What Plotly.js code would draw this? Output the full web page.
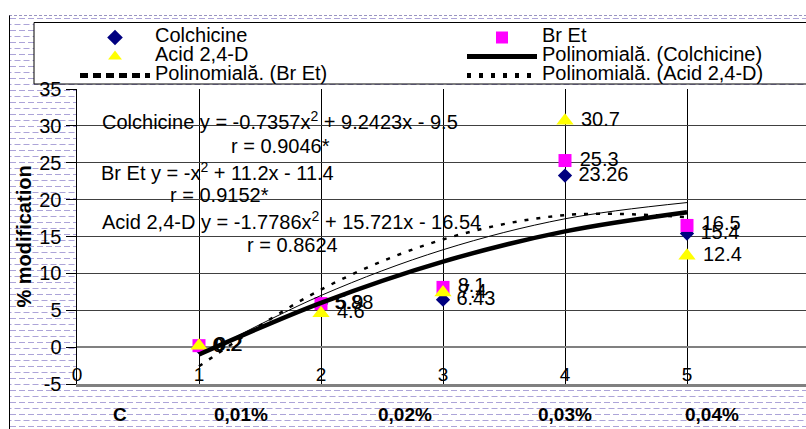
<!DOCTYPE html>
<html>
<head>
<meta charset="utf-8">
<script src="https://cdn.plot.ly/plotly-3.0.1.min.js"></script>
<style>
  html, body { margin:0; padding:0; background:#fff; }
  #wrap { position:relative; width:806px; height:429px; overflow:hidden; }
  #bg { position:absolute; left:9px; top:15px; width:797px; height:414px;
        border-left:1px solid #000; border-top:1px dashed #9a94c0;
        background-color:#fff;
        background-image:url("data:image/svg+xml,%3Csvg xmlns='http://www.w3.org/2000/svg' width='9' height='12'%3E%3Crect x='0' y='2' width='6' height='1' fill='%23aca4d8'/%3E%3Crect x='4.5' y='8' width='6' height='1' fill='%23aca4d8'/%3E%3Crect x='-4.5' y='8' width='6' height='1' fill='%23aca4d8'/%3E%3C/svg%3E"); }
  #chart { position:absolute; left:0; top:0; width:806px; height:429px; }
</style>
</head>
<body>
<div id="wrap"><div id="bg"></div><div id="chart"></div></div>
<script>
// ---- data ----
const doses = [1, 2, 3, 4, 5];
const colchicine = [0, 5.88, 6.43, 23.26, 15.4];
const brEt = [0.2, 5.9, 8.1, 25.3, 16.5];
const acid = [0.2, 4.6, 7.4, 30.7, 12.4];
// polynomial trend lines, values at each dose
const trendColchicine = [-1.0, 6.0, 11.6, 15.7, 18.3];
const trendBrEt = [-1.2, 7.0, 13.2, 17.4, 19.6];
const trendAcid = [-2.6, 7.8, 14.6, 17.9, 17.6];
const seriesNames = ["Colchicine", "Br Et", "Acid 2,4-D"];
const trendNames = ["Polinomială. (Colchicine)", "Polinomială. (Br Et)", "Polinomială. (Acid 2,4-D)"];
const xTickVals = [0, 1, 2, 3, 4, 5, 6];
const yTickVals = [-5, 0, 5, 10, 15, 20, 25, 30, 35];
const bottomLabels = ["C", "0,01%", "0,02%", "0,03%", "0,04%"];
const equations = [
  "Colchicine y = -0.7357x<sup>2</sup> + 9.2423x - 9.5",
  "r = 0.9046*",
  "Br Et y = -x<sup>2</sup> + 11.2x - 11.4",
  "r = 0.9152*",
  "Acid 2,4-D y = -1.7786x<sup>2</sup> + 15.721x - 16.54",
  "r = 0.8624"
];
const yTitle = "% modification";

// ---- presentation ----
const FONT = "Arial, 'Liberation Sans', sans-serif";
const leg = s => '<span style="font-size:20px">' + s + '</span>';
const labelFont = {family: FONT, size: 20, color: '#000'};

function markerTrace(name, y, symbol, color, size, legendId) {
  return {
    type: 'scatter', mode: 'markers+text', name: leg(name), legend: legendId,
    x: doses, y: y, text: y.map(v => '\u00a0' + v), textposition: 'middle right',
    textfont: labelFont, cliponaxis: false,
    marker: {symbol: symbol, color: color, size: size, line: {width: 0}},
    hoverinfo: 'x+y'
  };
}
function trendTrace(name, y, width, dash, legendId, show) {
  return {
    type: 'scatter', mode: 'lines', name: leg(name), legend: legendId, showlegend: show,
    x: doses, y: y, line: {color: '#000', width: width, dash: dash, shape: 'spline', smoothing: 1},
    hoverinfo: 'skip'
  };
}

const traces = [
  markerTrace(seriesNames[0], colchicine, 'diamond', '#000080', 11, 'legend'),
  markerTrace(seriesNames[1], brEt, 'square', '#FF00FF', 13, 'legend2'),
  markerTrace(seriesNames[2], acid, 'triangle-up', '#FFFF00', 15, 'legend'),
  trendTrace(trendNames[0], trendColchicine, 4.5, 'solid', 'legend2', true),
  trendTrace(trendNames[1], trendBrEt, 1, 'solid', 'legend', false),
  trendTrace(trendNames[2], trendAcid, 2.5, '4px,8px', 'legend2', true),
  // legend sample for the Br Et trend line (drawn dashed in the legend)
  {type: 'scatter', mode: 'lines', name: leg(trendNames[1]), legend: 'legend',
   x: [null], y: [null], line: {color: '#000', width: 1, dash: '8px,5px'}, hoverinfo: 'skip'}
];

// pixel -> paper helpers (plot area spans 77..806 horizontally, 89..384 vertically)
const px = p => (p - 77) / 729;
const py = p => (384 - p) / 295;

const eqPos = [
  {x: 100, y: 121}, {x: 229, y: 146},
  {x: 99, y: 171}, {x: 168, y: 195},
  {x: 100, y: 220}, {x: 245, y: 245}
];
const bottomPos = [120, 241, 405, 565, 712];

const annotations = [];
equations.forEach((t, i) => annotations.push({
  text: t, xref: 'paper', yref: 'paper', x: px(eqPos[i].x), y: py(eqPos[i].y),
  xanchor: 'left', yanchor: 'middle', showarrow: false,
  font: {family: FONT, size: 20, color: '#000'}
}));
bottomLabels.forEach((t, i) => annotations.push({
  text: '<b>' + t + '</b>', xref: 'paper', yref: 'paper', x: px(bottomPos[i]), y: py(415),
  xanchor: 'center', yanchor: 'middle', showarrow: false,
  font: {family: FONT, size: 19, color: '#000'}
}));

const legendCommon = {
  yanchor: 'top', xanchor: 'left', orientation: 'v', itemwidth: 70,
  bgcolor: 'rgba(0,0,0,0)', borderwidth: 0, font: {family: FONT, size: 12, color: '#000'},
  tracegroupgap: 0, itemsizing: 'constant'
};

const layout = {
  width: 806, height: 429,
  margin: {l: 77, r: 0, t: 89, b: 45, pad: 0},
  paper_bgcolor: 'rgba(0,0,0,0)', plot_bgcolor: '#fff',
  font: {family: FONT, size: 19, color: '#000'},
  showlegend: true,
  xaxis: {
    range: [0, 729 / 122], tickvals: xTickVals, ticktext: xTickVals.map(String),
    ticklabelposition: 'inside', ticklabeloverflow: 'allow',
    showgrid: true, gridcolor: '#000', gridwidth: 1,
    showline: true, linecolor: '#808080', linewidth: 3,
    zeroline: false, ticks: '', tickfont: {family: FONT, size: 19, color: '#000'},
    fixedrange: true
  },
  yaxis: {
    range: [-5, 35], tickvals: yTickVals, ticktext: yTickVals.map(String),
    showgrid: true, gridcolor: '#404040', gridwidth: 1,
    zeroline: true, zerolinecolor: '#808080', zerolinewidth: 2,
    showline: true, linecolor: '#000', linewidth: 1.5,
    ticks: 'outside', ticklen: 10, tickcolor: '#000',
    tickfont: {family: FONT, size: 20, color: '#000'},
    title: {text: '<b>' + yTitle + '</b>', font: {family: FONT, size: 20, color: '#000'}, standoff: 2},
    fixedrange: true
  },
  legend: Object.assign({x: px(75), y: py(23)}, legendCommon),
  legend2: Object.assign({x: px(462), y: py(23)}, legendCommon),
  shapes: [{
    type: 'rect', xref: 'paper', yref: 'paper', layer: 'below',
    x0: px(34), x1: px(830), y0: py(84), y1: py(22.5),
    fillcolor: '#fff', line: {color: '#000', width: 1}
  }],
  annotations: annotations
};

Plotly.newPlot('chart', traces, layout, {displayModeBar: false, staticPlot: true});
</script>
</body>
</html>
